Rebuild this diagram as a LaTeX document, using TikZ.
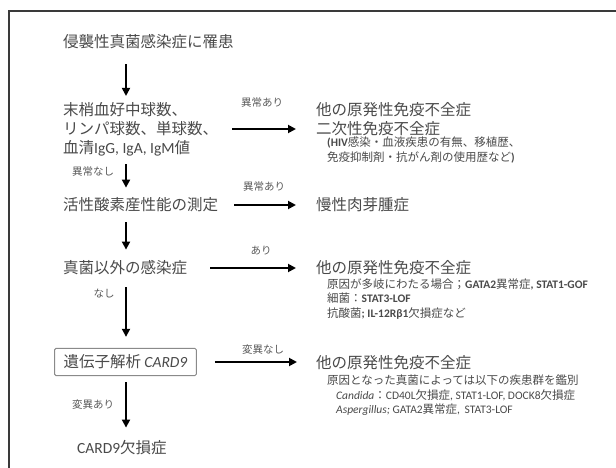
\documentclass[tikz,border=0pt]{standalone}
\usepackage{fontspec}
\setmainfont{Noto Sans CJK JP}
\newfontfamily\lat{Carlito}
\usetikzlibrary{arrows.meta}
\definecolor{txt}{HTML}{4A4A4A}
\definecolor{lbl}{HTML}{5A5A5A}
\definecolor{framec}{HTML}{3A3A3A}
\definecolor{boxc}{HTML}{8A8A8A}
\newcommand\mainsz{\fontsize{15.5}{19}\selectfont}
\newcommand\subsz{\fontsize{11.5}{14.5}\selectfont}
\newcommand\labsz{\fontsize{10.5}{12}\selectfont}
\begin{document}
\begin{tikzpicture}[x=1pt,y=-1pt,
  arr/.style={line width=1.8pt, draw=black, -{Triangle[length=8pt,width=8pt]}},
  maintxt/.style={font=\mainsz, text=txt, inner sep=0pt, anchor=west, align=left},
  subtxt/.style={font=\subsz, text=txt, inner sep=0pt, anchor=west, align=left},
  labtxt/.style={font=\labsz, text=lbl, inner sep=0pt},
  gbox/.style={font=\mainsz, text=txt, draw=boxc, line width=1pt, rounded corners=1.5pt,
    inner xsep=9pt, inner ysep=6.5pt, anchor=west},
  framel/.style={draw=framec, line width=1.2pt}]
\useasboundingbox (0,0) rectangle (616,468);
\fill[white] (0,0) rectangle (616,468);
\draw[framel] (616,11) -- (9,11) -- (9,468);

\coordinate (ax) at (126,0);

% left column
\node[maintxt] (title) at (63,42) {侵襲性真菌感染症に罹患};
\node[maintxt] (blk) at (63,129) {末梢血好中球数、\\リンパ球数、単球数、\\血清{\lat IgG, IgA, IgM}値};
\node[maintxt] (act) at (63,205) {活性酸素産性能の測定};
\node[maintxt] (inf) at (63,268) {真菌以外の感染症};
\node[gbox] (gen) at (54,362) {遺伝子解析 {\lat\itshape CARD9}};
\node[maintxt] (card) at (77,448) {{\lat CARD9}欠損症};

% right column
\node[maintxt] (r1) at (316,119.5) {他の原発性免疫不全症\\二次性免疫不全症};
\node[subtxt] (r1s) at (327,150) {{\lat\bfseries (HIV}感染・血液疾患の有無、移植歴、\\免疫抑制剤・抗がん剤の使用歴など{\lat\bfseries )}};
\node[maintxt] (r2) at (316,205) {慢性肉芽腫症};
\node[maintxt] (r3) at (316,268) {他の原発性免疫不全症};
\node[subtxt] (r3s) at (327,299) {原因が多岐にわたる場合；{\lat\bfseries GATA2}異常症{\lat\bfseries , STAT1-GOF}\\細菌：{\lat\bfseries STAT3-LOF}\\抗酸菌{\lat\bfseries ; IL-12Rβ1}欠損症など};
\node[maintxt] (r4) at (316,363) {他の原発性免疫不全症};
\node[subtxt] (r4s) at (327,380) {原因となった真菌によっては以下の疾患群を鑑別};
\node[subtxt] (r4t) at (336,402.5) {{\lat\itshape Candida}：{\lat CD40L}欠損症{\lat , STAT1-LOF, DOCK8}欠損症\\{\lat\itshape Aspergillus;} {\lat GATA2}異常症{\lat , \,STAT3-LOF}};

% vertical arrows
\draw[arr, shorten <=15pt, shorten >=6pt] (title.south -| ax) -- (blk.north -| ax);
\draw[arr, shorten <=8pt, shorten >=10pt] (blk.south -| ax) -- (act.north -| ax);
\draw[arr, shorten <=10pt, shorten >=11pt] (act.south -| ax) -- (inf.north -| ax);
\draw[arr, shorten <=12pt, shorten >=11pt] (inf.south -| ax) -- (gen.north -| ax);
\draw[arr, shorten <=6pt, shorten >=13pt] (gen.south -| ax) -- (card.north -| ax);

% horizontal arrows
\draw[arr, shorten <=14pt, shorten >=20pt] (blk.east) -- (blk.east -| r1.west);
\draw[arr, shorten <=16pt, shorten >=20pt] (act.east) -- (act.east -| r2.west);
\draw[arr, shorten <=23pt, shorten >=20pt] (inf.east) -- (inf.east -| r3.west);
\draw[arr, shorten <=18pt, shorten >=19pt] (gen.east) -- (gen.east -| r4.west);

% labels
\node[labtxt] (l1) at (262,103) {異常あり};
\node[labtxt] (l2) at (93,172) {異常なし};
\node[labtxt] (l3) at (264,187) {異常あり};
\node[labtxt] (l4) at (261,251) {あり};
\node[labtxt] (l5) at (104,294) {なし};
\node[labtxt] (l6) at (263,350) {変異なし};
\node[labtxt] (l7) at (93,405) {変異あり};
\end{tikzpicture}
\end{document}
